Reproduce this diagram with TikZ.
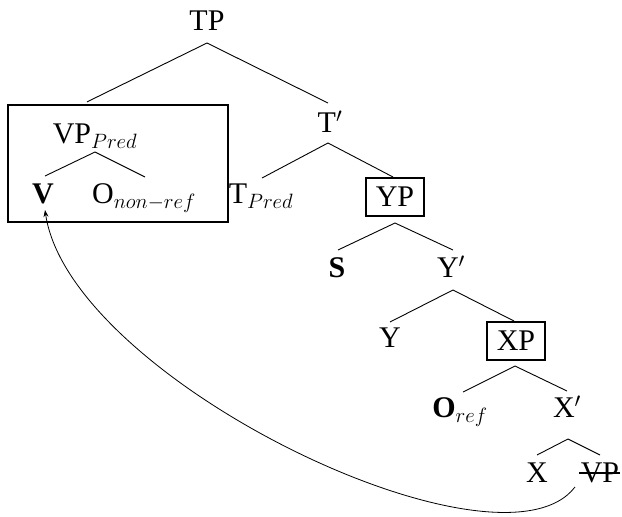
\documentclass[tikz,border=0pt]{standalone}
\usepackage{fontspec}
\setmainfont{Liberation Serif}
\usetikzlibrary{arrows.meta}
\begin{document}
\begin{tikzpicture}[x=1pt,y=-1pt,
  every node/.style={font=\fontsize{30}{36}\selectfont, inner sep=0pt},
  lbl/.style={anchor=base},
  boxed/.style={draw, line width=2pt, minimum width=58pt, minimum height=38pt},
  branch/.style={line width=0.9pt},
  move/.style={line width=0.8pt, -{Stealth[length=7pt,width=5pt]}}]
\useasboundingbox (0,0) rectangle (622,517);
% nodes
\node[lbl] (TP) at (207,30) {TP};
\node[draw, line width=2.2pt, minimum width=220pt, minimum height=117pt] (VPbox) at (118,163.5) {};
\node[lbl] (VPpred) at (95,143) {VP$_{Pred}$};
\node[lbl] (V) at (43,203) {\textbf{V}};
\node[lbl] (Onr) at (144,203) {O$_{non-ref}$};
\node[lbl] (Tbar) at (330,132) {T$'$};
\node[lbl] (TPred) at (261,203) {T$_{Pred}$};
\node[boxed] (YP) at (395,197) {YP};
\node[lbl] (S) at (337,277) {\textbf{S}};
\node[lbl] (Ybar) at (451,277) {Y$'$};
\node[lbl] (Y) at (390,347) {Y};
\node[boxed] (XP) at (516,341) {XP};
\node[lbl] (Oref) at (460,417) {\textbf{O}$_{ref}$};
\node[lbl] (Xbar) at (567,417) {X$'$};
\node[lbl] (X) at (537,482) {X};
\node[lbl] (VPs) at (600,482) {VP};
% branches
\draw[branch] ([shift={(-31,-2)}]VPbox.north) -- ([shift={(0,13)}]TP.base) -- ([shift={(-2,-29)}]Tbar.base);
\draw[branch] ([shift={(2,-27)}]V.base) -- ([shift={(0,9)}]VPpred.base) -- ([shift={(1,-26)}]Onr.base);
\draw[branch] ([shift={(1,-25)}]TPred.base) -- ([shift={(-2,11)}]Tbar.base) -- ([shift={(-2,0)}]YP.north);
\draw[branch] ([shift={(1,-27)}]S.base) -- ([shift={(0,6)}]YP.south) -- ([shift={(2,-27)}]Ybar.base);
\draw[branch] ([shift={(0,-25)}]Y.base) -- ([shift={(2,13)}]Ybar.base) -- ([shift={(-2,0)}]XP.north);
\draw[branch] ([shift={(3,-25)}]Oref.base) -- ([shift={(-1,5)}]XP.south) -- ([shift={(0,-26)}]Xbar.base);
\draw[branch] ([shift={(0,-27)}]X.base) -- ([shift={(1,22)}]Xbar.base) -- ([shift={(0,-27)}]VPs.base);
% strike-through
\draw[line width=1.4pt] ([shift={(-21,-9)}]VPs.base) -- ([shift={(20,-9)}]VPs.base);
% movement arrow
\draw[move] ([shift={(-25,5)}]VPs.base) .. controls (500,585) and (70,380) .. ([shift={(2,7)}]V.base);
\end{tikzpicture}
\end{document}
